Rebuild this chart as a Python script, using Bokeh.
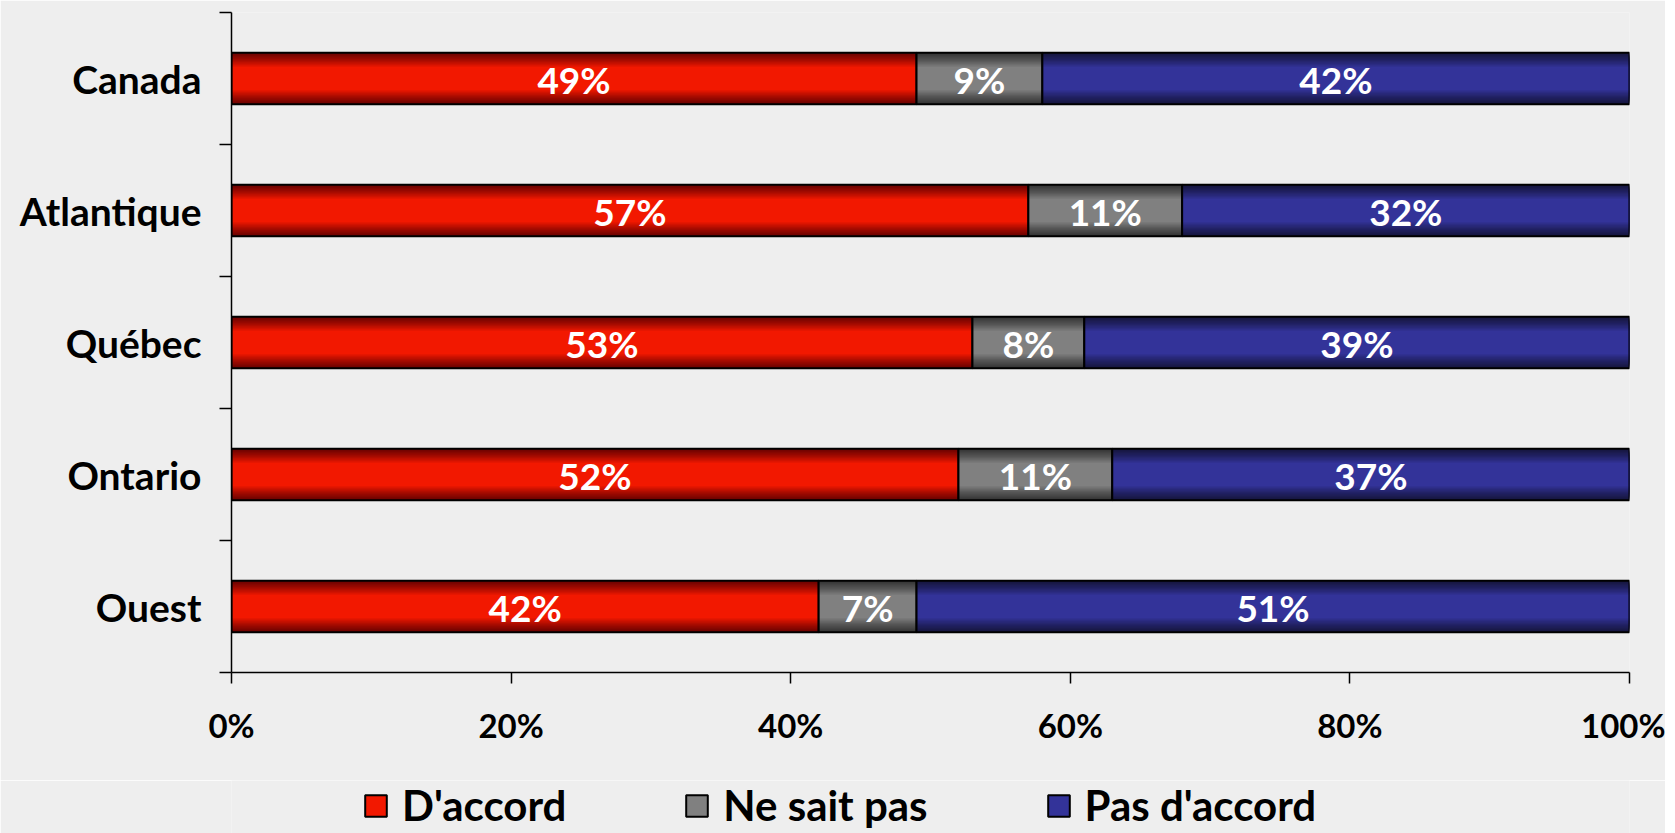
from bokeh.plotting import figure
from bokeh.models import Range1d, FixedTicker, Legend, LegendItem, ColumnDataSource
from bokeh.layouts import column
from bokeh.core.properties import value
from bokeh.embed import file_html
from bokeh.resources import INLINE

regions = ["Canada", "Atlantique", "Québec", "Ontario", "Ouest"]
accord = [49, 57, 53, 52, 42]
nesaitpas = [9, 11, 8, 11, 7]
pasaccord = [42, 32, 39, 37, 51]
series_names = ["D'accord", "Ne sait pas", "Pas d'accord"]
x_ticks = [0, 20, 40, 60, 80, 100]
x_tick_labels = ["0%", "20%", "40%", "60%", "80%", "100%"]

# gradient colours: (edge, centre)
grad = [((0x6E, 0x02, 0x00), (0xF2, 0x18, 0x00)),
        ((0x36, 0x36, 0x36), (0x80, 0x80, 0x80)),
        ((0x16, 0x16, 0x40), (0x33, 0x33, 0x99))]

BG = "#EEEEEE"
FONT = "Lato"

W = 1665
LEFT, TOP, FW, FH = 231, 12, 1398, 660
H_MAIN = 780
H_LEG = 53

p = figure(width=W, height=H_MAIN, output_backend="svg", toolbar_location=None,
           x_range=Range1d(0, 100), y_range=Range1d(5, 0),
           min_border_left=LEFT, min_border_right=W - LEFT - FW, min_border_top=TOP,
           min_border_bottom=H_MAIN - TOP - FH, background_fill_color=BG,
           border_fill_color=BG, outline_line_color=None)
p.grid.visible = False

ypos = [i + 0.5 for i in range(len(regions))]
series = [accord, nesaitpas, pasaccord]
lefts = []
acc = [0] * len(regions)
for s in series:
    lefts.append(list(acc))
    acc = [a + v for a, v in zip(acc, s)]

BAR_H = 0.39
N = 14
sources = []
for si, s in enumerate(series):
    left = lefts[si]
    right = [l + v for l, v in zip(left, s)]
    src = ColumnDataSource(dict(y=ypos, left=left, right=right))
    sources.append(src)
    edge, centre = grad[si]
    for k in range(N):
        t = k / (N - 1)
        frac = 1.0 - 0.55 * t
        tt = t ** 1.2
        c = tuple(int(round(edge[j] + (centre[j] - edge[j]) * tt)) for j in range(3))
        col = "#%02x%02x%02x" % c
        p.hbar(y="y", left="left", right="right", height=BAR_H * frac, source=src,
               fill_color=col, line_color=None)
    p.hbar(y="y", left="left", right="right", height=BAR_H, source=src,
           fill_alpha=0, line_color="#000000", line_width=2)

    lbl_x = [l + v / 2 for l, v in zip(left, s)]
    lbl_t = ["%d%%" % v for v in s]
    p.text(x=lbl_x, y=ypos, text=lbl_t, text_align="center", text_baseline="middle",
           text_color="white", text_font=value(FONT), text_font_style="bold",
           text_font_size="37px", y_offset=1)

# axes
xa = p.xaxis[0]
xa.ticker = FixedTicker(ticks=x_ticks)
xa.major_label_overrides = {t: l for t, l in zip(x_ticks, x_tick_labels)}
xa.major_tick_out = 11
xa.major_tick_in = 0
xa.minor_tick_line_color = None
xa.axis_line_color = "black"
xa.axis_line_width = 1.5
xa.major_tick_line_width = 1.5
xa.major_label_text_font = FONT
xa.major_label_text_font_style = "bold"
xa.major_label_text_font_size = "33px"
xa.major_label_text_color = "black"
xa.major_label_standoff = 21

ya = p.yaxis[0]
ya.ticker = FixedTicker(ticks=ypos, minor_ticks=list(range(len(regions) + 1)))
ya.major_label_overrides = {y: r for y, r in zip(ypos, regions)}
ya.major_tick_line_color = None
ya.major_tick_out = 0
ya.major_tick_in = 0
ya.minor_tick_out = 12
ya.minor_tick_in = 0
ya.minor_tick_line_color = "black"
ya.minor_tick_line_width = 1.5
ya.axis_line_color = "black"
ya.axis_line_width = 1.5
ya.major_label_text_font = FONT
ya.major_label_text_font_style = "bold"
ya.major_label_text_font_size = "39px"
ya.major_label_text_color = "black"
ya.major_label_standoff = 18

# legend strip (same series, renderers hidden; only the legend shows)
leg = figure(width=W, height=H_LEG, output_backend="svg", toolbar_location=None,
             x_range=Range1d(0, 100), y_range=Range1d(5, 0),
             x_axis_location=None, y_axis_location=None,
             min_border_left=LEFT, min_border_right=W - LEFT - FW,
             min_border_top=0, min_border_bottom=0,
             background_fill_color=BG, border_fill_color=BG, outline_line_color=None)
leg.grid.visible = False
items = []
for si, name in enumerate(series_names):
    edge, centre = grad[si]
    col = "#%02x%02x%02x" % centre
    r = leg.hbar(y="y", left="left", right="right", height=BAR_H, source=sources[si],
                 fill_color=col, line_color="#000000", line_width=2)
    r.visible = False
    items.append(LegendItem(label=name, renderers=[r]))

legend = Legend(items=items, orientation="horizontal", location=(131, 3),
                padding=0, spacing=117, label_standoff=13, glyph_width=27, glyph_height=27,
                border_line_color=None, background_fill_alpha=0,
                label_text_font=FONT, label_text_font_style="bold",
                label_text_font_size="42px", label_text_color="black", margin=0,
                inactive_fill_alpha=0)
leg.add_layout(legend, "center")

layout = column(p, leg, spacing=0)
open("out.html", "w").write(file_html(layout, INLINE))
